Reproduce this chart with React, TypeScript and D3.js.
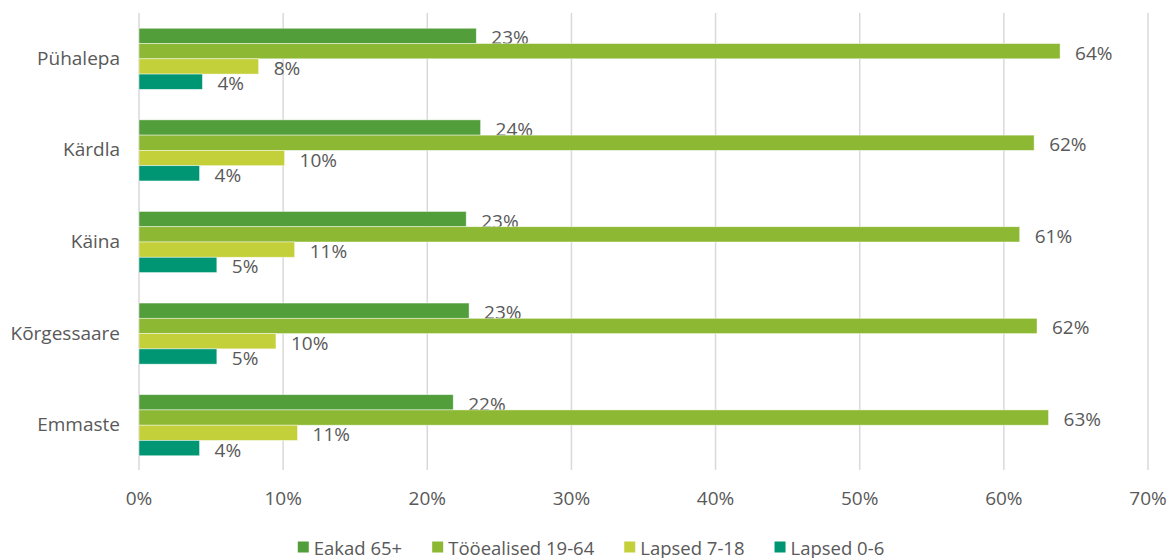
import React, { useEffect, useRef } from "react";
import * as d3 from "d3";

const categories = ["Pühalepa", "Kärdla", "Käina", "Kõrgessaare", "Emmaste"];
const seriesNames = ["Eakad 65+", "Tööealised 19-64", "Lapsed 7-18", "Lapsed 0-6"];
const seriesColors = ["#529E3A", "#8DB833", "#C4D03A", "#009673"];
const eakad = [0.234, 0.237, 0.227, 0.229, 0.218];
const tooealised = [0.639, 0.621, 0.611, 0.623, 0.631];
const lapsed718 = [0.083, 0.101, 0.108, 0.095, 0.110];
const lapsed06 = [0.044, 0.042, 0.054, 0.054, 0.042];
const xTicks = [0, 0.1, 0.2, 0.3, 0.4, 0.5, 0.6, 0.7];

const W = 1171;
const H = 558;
const FONT = "'Open Sans', sans-serif";
const TEXT = "#595959";

export default function App() {
  const ref = useRef<SVGSVGElement | null>(null);

  useEffect(() => {
    const svg = d3.select(ref.current);
    svg.selectAll("*").remove();

    const seriesValues = [eakad, tooealised, lapsed718, lapsed06];
    const x = d3.scaleLinear().domain([0, 0.7]).range([139, 1148]);
    const y = d3.scaleBand<string>().domain(categories).range([13, 471]).paddingInner(0).paddingOuter(0);
    const bw = y.bandwidth();
    const gap = bw * 0.333;
    const sub = d3.scaleBand<string>().domain(seriesNames).range([gap / 2, bw - gap / 2]);

    // gridlines
    svg.append("g")
      .selectAll("line")
      .data(xTicks)
      .join("line")
      .attr("x1", (d) => x(d))
      .attr("x2", (d) => x(d))
      .attr("y1", 13)
      .attr("y2", 470)
      .attr("stroke", "#D9D9D9")
      .attr("stroke-width", 1.5);

    // tick labels
    svg.append("g")
      .selectAll("text")
      .data(xTicks)
      .join("text")
      .attr("x", (d) => x(d))
      .attr("y", 498)
      .attr("text-anchor", "middle")
      .attr("dominant-baseline", "central")
      .attr("font-family", FONT)
      .attr("font-size", 19)
      .attr("fill", TEXT)
      .text((d) => d3.format(".0%")(d));

    // category labels
    svg.append("g")
      .selectAll("text")
      .data(categories)
      .join("text")
      .attr("x", 120)
      .attr("y", (d) => (y(d) as number) + bw / 2 - 1)
      .attr("text-anchor", "end")
      .attr("dominant-baseline", "central")
      .attr("font-family", FONT)
      .attr("font-size", 19)
      .attr("fill", TEXT)
      .text((d) => d);

    // bars
    seriesNames.forEach((s, si) => {
      const vals = seriesValues[si];
      const g = svg.append("g");
      g.selectAll("rect")
        .data(categories)
        .join("rect")
        .attr("x", x(0))
        .attr("y", (c) => (y(c) as number) + (sub(s) as number))
        .attr("width", (c, i) => x(vals[i]) - x(0))
        .attr("height", sub.bandwidth())
        .attr("fill", seriesColors[si])
        .attr("stroke", "#ffffff")
        .attr("stroke-opacity", 0.6)
        .attr("stroke-width", 0.75);
      g.selectAll("text")
        .data(categories)
        .join("text")
        .attr("x", (c, i) => x(vals[i]) + 15)
        .attr("y", (c) => (y(c) as number) + (sub(s) as number) + sub.bandwidth() / 2 + 1.5)
        .attr("dominant-baseline", "central")
        .attr("font-family", FONT)
        .attr("font-size", 19)
        .attr("fill", TEXT)
        .text((c, i) => d3.format(".0%")(vals[i]));
    });

    // legend
    const lg = svg.append("g");
    const items = lg.selectAll("g")
      .data(seriesNames)
      .join("g");
    items.append("rect")
      .attr("width", 11)
      .attr("height", 11)
      .attr("y", -5.5)
      .attr("fill", (d, i) => seriesColors[i]);
    items.append("text")
      .attr("x", 16)
      .attr("dominant-baseline", "central")
      .attr("font-family", FONT)
      .attr("font-size", 18.5)
      .attr("fill", TEXT)
      .text((d) => d);
    const widths: number[] = [];
    items.each(function () {
      const t = d3.select(this).select("text").node() as SVGTextElement;
      widths.push(16 + t.getComputedTextLength());
    });
    const spacing = 30;
    const total = d3.sum(widths) + spacing * (widths.length - 1);
    let cx = 591 - total / 2;
    items.each(function (d, i) {
      d3.select(this).attr("transform", `translate(${cx},547)`);
      cx += widths[i] + spacing;
    });
  }, []);

  return (
    <svg
      ref={ref}
      width={W}
      height={H}
      style={{ position: "absolute", left: 0, top: 0, background: "#fff" }}
    />
  );
}
